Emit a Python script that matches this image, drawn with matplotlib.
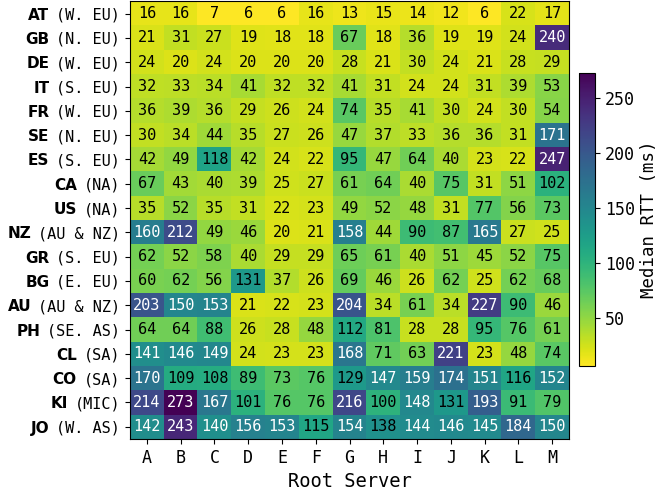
import numpy as np
import matplotlib
matplotlib.use("Agg")
import matplotlib.pyplot as plt

# median RTT per country (rows) and root server (columns)
servers = list("ABCDEFGHIJKLM")
countries = ["AT", "GB", "DE", "IT", "FR", "SE", "ES", "CA", "US",
             "NZ", "GR", "BG", "AU", "PH", "CL", "CO", "KI", "JO"]
regions = ["(W. EU)", "(N. EU)", "(W. EU)", "(S. EU)", "(W. EU)", "(N. EU)",
           "(S. EU)", "(NA)", "(NA)", "(AU & NZ)", "(S. EU)", "(E. EU)",
           "(AU & NZ)", "(SE. AS)", "(SA)", "(SA)", "(MIC)", "(W. AS)"]

rtt = np.array([
    [16, 16, 7, 6, 6, 16, 13, 15, 14, 12, 6, 22, 17],
    [21, 31, 27, 19, 18, 18, 67, 18, 36, 19, 19, 24, 240],
    [24, 20, 24, 20, 20, 20, 28, 21, 30, 24, 21, 28, 29],
    [32, 33, 34, 41, 32, 32, 41, 31, 24, 24, 31, 39, 53],
    [36, 39, 36, 29, 26, 24, 74, 35, 41, 30, 24, 30, 54],
    [30, 34, 44, 35, 27, 26, 47, 37, 33, 36, 36, 31, 171],
    [42, 49, 118, 42, 24, 22, 95, 47, 64, 40, 23, 22, 247],
    [67, 43, 40, 39, 25, 27, 61, 64, 40, 75, 31, 51, 102],
    [35, 52, 35, 31, 22, 23, 49, 52, 48, 31, 77, 56, 73],
    [160, 212, 49, 46, 20, 21, 158, 44, 90, 87, 165, 27, 25],
    [62, 52, 58, 40, 29, 29, 65, 61, 40, 51, 45, 52, 75],
    [60, 62, 56, 131, 37, 26, 69, 46, 26, 62, 25, 62, 68],
    [203, 150, 153, 21, 22, 23, 204, 34, 61, 34, 227, 90, 46],
    [64, 64, 88, 26, 28, 48, 112, 81, 28, 28, 95, 76, 61],
    [141, 146, 149, 24, 23, 23, 168, 71, 63, 221, 23, 48, 74],
    [170, 109, 108, 89, 73, 76, 129, 147, 159, 174, 151, 116, 152],
    [214, 273, 167, 101, 76, 76, 216, 100, 148, 131, 193, 91, 79],
    [142, 243, 140, 156, 153, 115, 154, 138, 144, 146, 145, 184, 150],
])

plt.rcParams['font.family'] = 'DejaVu Sans Mono'

fig = plt.figure(figsize=(6.57, 4.92), dpi=100)
ax = fig.add_axes([0.198, 0.108, 0.668, 0.889])
cax = fig.add_axes([0.881, 0.256, 0.0244, 0.596])

im = ax.imshow(rtt, cmap='viridis_r', aspect='auto', interpolation='nearest')

for i in range(rtt.shape[0]):
    for j in range(rtt.shape[1]):
        v = rtt[i, j]
        ax.text(j, i, str(v), ha='center', va='center', fontsize=11,
                color='white' if v >= 139.5 else 'black')

ax.set_xticks(range(len(servers)))
ax.set_xticklabels(servers, fontsize=12)
ax.set_yticks(range(len(countries)))
ax.set_yticklabels(regions, fontsize=11)
ax.set_xlabel("Root Server", fontsize=13.5)

cb = fig.colorbar(im, cax=cax)
cb.set_ticks([50, 100, 150, 200, 250])
cb.ax.tick_params(labelsize=12)
cb.set_label("Median RTT (ms)", fontsize=12.5)

# bold country code left of the region label
fig.canvas.draw()
renderer = fig.canvas.get_renderer()
inv = ax.transAxes.inverted()
for lab, code in zip(ax.get_yticklabels(), countries):
    bb = lab.get_window_extent(renderer)
    x0, _ = inv.transform((bb.x0 - 7, 0))
    _, yc = inv.transform((0, (bb.y0 + bb.y1) / 2))
    ax.text(x0, yc, code, transform=ax.transAxes, ha='right', va='center',
            fontsize=11, fontweight='bold', family='DejaVu Sans')

fig.savefig("out.png", dpi=100)
